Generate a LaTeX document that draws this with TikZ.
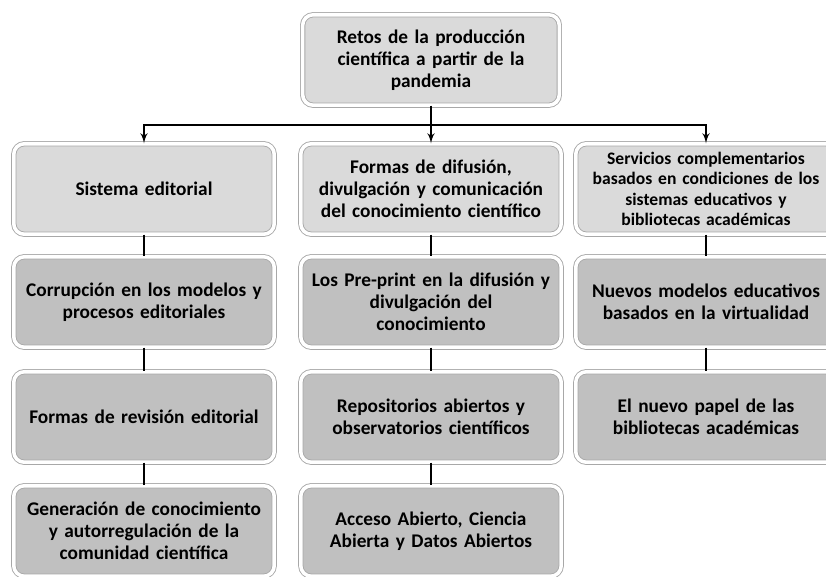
\documentclass[tikz,border=0pt]{standalone}
\usepackage{fontspec}
\setmainfont{Carlito}
\usetikzlibrary{shapes,arrows,shadows}
\definecolor{boxlight}{HTML}{DADADA}
\definecolor{boxdark}{HTML}{C0C0C0}
\definecolor{boxrim}{HTML}{A8A8A8}

\begin{document}
\begin{tikzpicture}[auto,>=latex',x=0.02cm,y=-0.02cm]
    \tikzstyle{block} = [draw=boxrim, double=white, double distance=2pt, line width=0.5pt, shape=rectangle, rounded corners=6pt, minimum width=5.21cm, minimum height=1.81cm, text width=4.9cm, align=center, font=\bfseries\fontsize{11}{12.5}\selectfont, drop shadow={opacity=0.3,shadow xshift=0pt,shadow yshift=-1pt}]
    \tikzstyle{light} = [block, fill=boxlight]
    \tikzstyle{dark} = [block, fill=boxdark]
    \tikzstyle{tmp} = [coordinate]
    \useasboundingbox (0,0) rectangle (826,577);
    %Creating Blocks and Connection Nodes
    \node [light, minimum width=4.79cm] (retos) at (431,60) {Retos de la producción\\científica a partir de la\\pandemia};
    \node [tmp] (split) at (431,125) {};
    \node [light] (sistema) at (144,189) {Sistema editorial};
    \node [dark] (corrupcion) at (144,302) {Corrupción en los modelos y\\procesos editoriales};
    \node [dark] (revision) at (144,417) {Formas de revisión editorial};
    \node [dark] (generacion) at (144,531) {Generación de conocimiento\\y autorregulación de la\\comunidad científica};
    \node [light] (difusion) at (431,189) {Formas de difusión,\\divulgación y comunicación\\del conocimiento científico};
    \node [dark] (preprint) at (431,302) {Los Pre-print en la difusión y\\divulgación del\\conocimiento};
    \node [dark] (repositorios) at (431,417) {Repositorios abiertos y\\observatorios científicos};
    \node [dark] (acceso) at (431,531) {Acceso Abierto, Ciencia\\Abierta y Datos Abiertos};
    \node [light, font=\bfseries\fontsize{10}{11.5}\selectfont] (servicios) at (706,189) {Servicios complementarios\\basados en condiciones de los\\sistemas educativos y\\bibliotecas académicas};
    \node [dark] (nuevos) at (706,302) {Nuevos modelos educativos\\basados en la virtualidad};
    \node [dark] (papel) at (706,417) {El nuevo papel de las\\bibliotecas académicas};
    %Conecting Blocks
    \begin{scope}[line width=1pt]
         \draw (retos) -- (split);
         \draw[->] (split) -| (sistema);
         \draw[->] (split) -- (difusion);
         \draw[->] (split) -| (servicios);
         \draw (sistema) -- (corrupcion);
         \draw (corrupcion) -- (revision);
         \draw (revision) -- (generacion);
         \draw (difusion) -- (preprint);
         \draw (preprint) -- (repositorios);
         \draw (repositorios) -- (acceso);
         \draw (servicios) -- (nuevos);
         \draw (nuevos) -- (papel);
    \end{scope}
\end{tikzpicture}
\end{document}
